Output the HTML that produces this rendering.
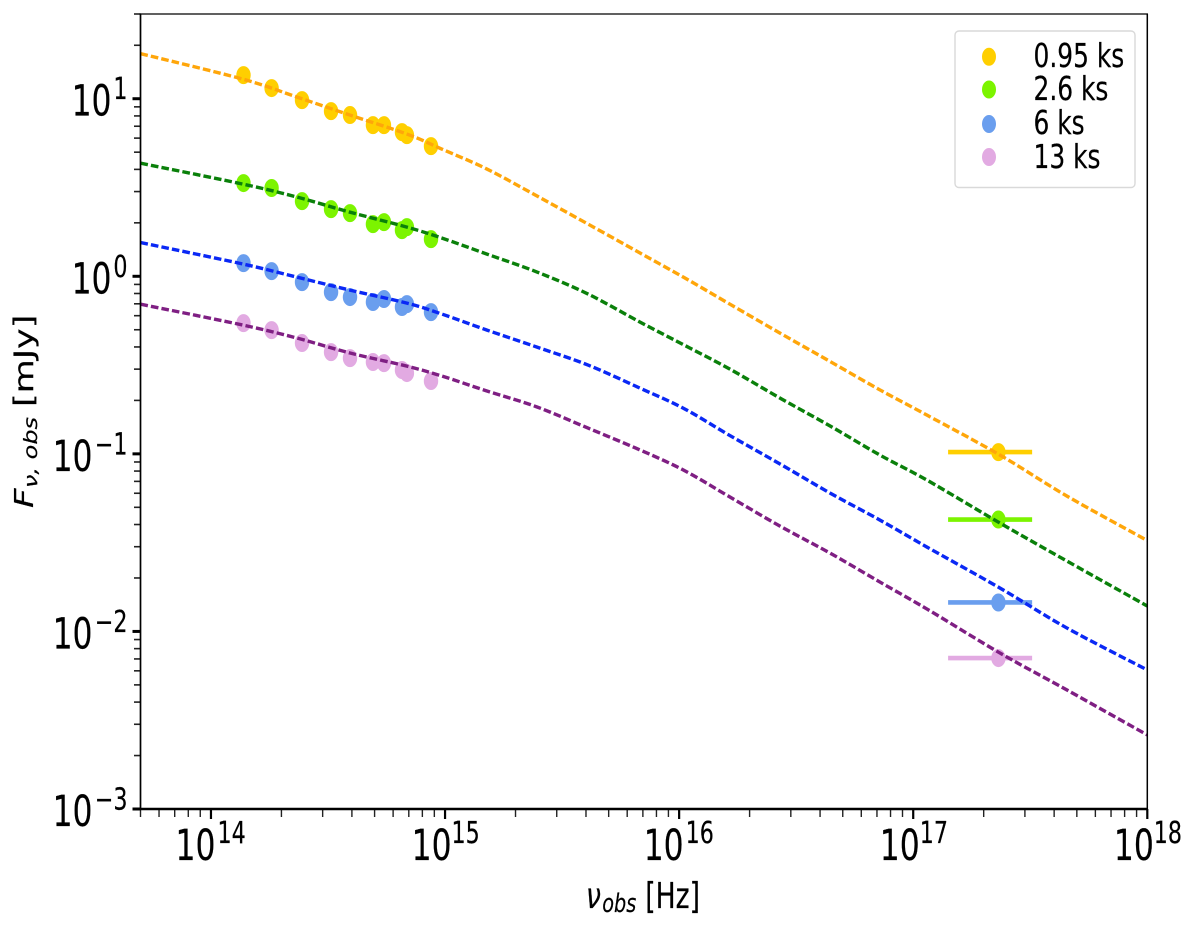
<!DOCTYPE html>
<html>
<head>
<meta charset="utf-8">
<title>Afterglow spectral energy distribution</title>
<style>
html,body{margin:0;padding:0;background:#fff;}
#chart{display:block;width:1200px;height:929px;}
text{font-family:"DejaVu Sans","Liberation Sans",sans-serif;fill:#000;stroke:#000;stroke-width:0.2px;}
</style>
</head>
<body>
<svg id="chart" xmlns="http://www.w3.org/2000/svg" width="1200" height="929" viewBox="0 0 1200 929">
  <rect x="0" y="0" width="1200" height="929" fill="#fff"/>
  <defs>
    <clipPath id="plot-clip"><rect x="140.5" y="14" width="1006.8" height="795"/></clipPath>
  </defs>
  <g id="ticks"></g>
  <g id="bars" clip-path="url(#plot-clip)"></g>
  <g id="points" clip-path="url(#plot-clip)"></g>
  <g id="curves" clip-path="url(#plot-clip)"></g>
  <g id="spines">
    <line x1="139.7" y1="14" x2="1148" y2="14" stroke="#000" stroke-width="1.3"/>
    <line x1="1147.3" y1="14" x2="1147.3" y2="809" stroke="#000" stroke-width="1.5"/>
    <line x1="140.5" y1="14" x2="140.5" y2="810" stroke="#000" stroke-width="1.7"/>
    <line x1="139.7" y1="809" x2="1148" y2="809" stroke="#000" stroke-width="2.6"/>
  </g>
  <g id="tick-labels"></g>

  <g transform="translate(586,908) scale(0.74,1)">
    <text x="0" y="0" font-size="36" font-style="italic">ν</text>
    <text x="22" y="4" font-size="26" font-style="italic">obs</text>
    <text x="80" y="0" font-size="36">[Hz]</text>
  </g>
  <g transform="translate(33,508) scale(0.765,1) rotate(-90)">
    <text x="0" y="0" font-size="34" font-style="italic">F</text>
    <text x="20" y="5" font-size="24" font-style="italic">ν, obs</text>
    <text x="101" y="0" font-size="35">[mJy]</text>
  </g>

  <g>
    <rect x="955" y="31" width="180" height="156.5" rx="4" ry="4" fill="#fff" stroke="#d9d9d9" stroke-width="1.4"/>
    <g>
      <ellipse cx="989" cy="56.7" rx="7" ry="9" fill="#ffcf00"/>
      <text transform="translate(1033.5,67) scale(0.755,1)" font-size="33">0.95 ks</text>
    </g>
    <g>
      <ellipse cx="989" cy="89.5" rx="7" ry="9" fill="#7cf400"/>
      <text transform="translate(1033.5,100) scale(0.755,1)" font-size="33">2.6 ks</text>
    </g>
    <g>
      <ellipse cx="989" cy="124" rx="7" ry="9" fill="#6a9eee"/>
      <text transform="translate(1033.5,134) scale(0.755,1)" font-size="33">6 ks</text>
    </g>
    <g>
      <ellipse cx="989" cy="157" rx="7" ry="9" fill="#e2aae2"/>
      <text transform="translate(1033.5,168) scale(0.755,1)" font-size="33">13 ks</text>
    </g>
  </g>
</svg>
<script>
// All values are log10: frequency in Hz, flux density in mJy.
var xTickExponents = [14, 15, 16, 17, 18];
var yTickExponents = [-3, -2, -1, 0, 1];
var yTickLabels = ["\u22123", "\u22122", "\u22121", "0", "1"];

var modelLogNu = [13.699, 14.137, 14.368, 14.594, 14.837, 14.987, 15.179, 15.393, 15.611, 15.833, 16.021, 16.217, 16.431, 16.645, 16.858, 17.059, 17.371, 17.657, 18.0];
var modelOrange = [1.254, 1.110, 1.009, 0.908, 0.801, 0.716, 0.604, 0.452, 0.294, 0.131, -0.007, -0.157, -0.320, -0.480, -0.640, -0.782, -1.007, -1.238, -1.488];
var modelGreen = [0.637, 0.519, 0.446, 0.361, 0.277, 0.215, 0.125, 0.024, -0.100, -0.258, -0.387, -0.523, -0.686, -0.843, -1.007, -1.148, -1.390, -1.604, -1.857];
var modelBlue = [0.190, 0.069, -0.005, -0.078, -0.151, -0.213, -0.303, -0.399, -0.500, -0.630, -0.745, -0.897, -1.057, -1.221, -1.373, -1.525, -1.756, -1.981, -2.217];
var modelPurple = [-0.157, -0.275, -0.348, -0.432, -0.506, -0.562, -0.646, -0.736, -0.855, -0.978, -1.093, -1.243, -1.407, -1.559, -1.722, -1.874, -2.122, -2.330, -2.583];

var opticalLogNu = [14.139, 14.259, 14.389, 14.513, 14.594, 14.692, 14.739, 14.816, 14.837, 14.940];
var optical095ks = [1.133, 1.060, 0.992, 0.930, 0.908, 0.851, 0.851, 0.812, 0.795, 0.733];
var optical26ks = [0.525, 0.497, 0.423, 0.378, 0.356, 0.294, 0.305, 0.260, 0.277, 0.209];
var optical6ks = [0.074, 0.029, -0.033, -0.089, -0.117, -0.145, -0.128, -0.173, -0.157, -0.202];
var optical13ks = [-0.264, -0.303, -0.376, -0.427, -0.461, -0.483, -0.489, -0.528, -0.545, -0.590];

var xrayLogNu = [17.364];
var xrayLogNuLow = [17.149];
var xrayLogNuHigh = [17.508];
var xray095ks = [-0.990];
var xray26ks = [-1.370];
var xray6ks = [-1.837];
var xray13ks = [-2.150];

var SVGNS = "http://www.w3.org/2000/svg";
var LEFT = 140.5, RIGHT = 1147.3, TOP = 14, BOTTOM = 809;
var X_MIN = Math.log10(5e13), X_MAX = 18, Y_MIN = -3, Y_MAX = Math.log10(30);
var BASE_SQUEEZE = 0.73, SUP_SQUEEZE = 0.74;

function xAxis(v) { return LEFT + (v - X_MIN) / (X_MAX - X_MIN) * (RIGHT - LEFT); }
function yAxis(v) { return BOTTOM - (v - Y_MIN) / (Y_MAX - Y_MIN) * (BOTTOM - TOP); }
function make(tag, attrs, parent) {
  var el = document.createElementNS(SVGNS, tag);
  for (var k in attrs) { el.setAttribute(k, attrs[k]); }
  parent.appendChild(el);
  return el;
}

var ticksG = document.getElementById("ticks");
var labelsG = document.getElementById("tick-labels");
var barsG = document.getElementById("bars");
var pointsG = document.getElementById("points");
var curvesG = document.getElementById("curves");

// minor x ticks
for (var dx = 13; dx <= 17; dx++) {
  for (var mx = 2; mx <= 9; mx++) {
    var lx = dx + Math.log10(mx);
    if (lx < X_MIN - 1e-6) { continue; }
    var tx = make("line", {x1: xAxis(lx), x2: xAxis(lx), y1: BOTTOM, y2: BOTTOM + 8, stroke: "#222", "stroke-width": 1.4}, ticksG);
    
    
  }
}
// minor y ticks
for (var dy = -3; dy <= 1; dy++) {
  for (var my = 2; my <= 9; my++) {
    var ly = dy + Math.log10(my);
    if (ly > Y_MAX + 1e-6) { continue; }
    var ty = make("line", {x1: LEFT - 6.5, x2: LEFT, y1: yAxis(ly), y2: yAxis(ly), stroke: "#222", "stroke-width": 1.6}, ticksG);
    
    
  }
}

xTickExponents.forEach(function (e) {
  var px = xAxis(e);
  var nudge = (e === 15 || e === 17 || e === 18) ? 2 : 0;
  var t = make("line", {x1: px, x2: px, y1: BOTTOM, y2: BOTTOM + 10, stroke: "#000", "stroke-width": 2.2}, ticksG);
  
  
  var base = make("text", {transform: "translate(" + (px + 4.5 + nudge) + ",860) scale(" + BASE_SQUEEZE + ",1)", "font-size": 43, "text-anchor": "end"}, labelsG);
  base.textContent = "10";
  
  
  var sup = make("text", {transform: "translate(" + (px + 6.5) + ",843) scale(" + SUP_SQUEEZE + ",1)", "font-size": 30}, labelsG);
  sup.textContent = String(e);
  
  
});

yTickExponents.forEach(function (e, i) {
  var py = yAxis(e);
  var t = make("line", {x1: LEFT - 8, x2: LEFT, y1: py, y2: py, stroke: "#000", "stroke-width": 3}, ticksG);
  
  
  var baseEnd = e < 0 ? 92.5 : 111.5;
  var base = make("text", {transform: "translate(" + baseEnd + "," + (py + 17) + ") scale(" + BASE_SQUEEZE + ",1)", "font-size": 43, "text-anchor": "end"}, labelsG);
  base.textContent = "10";
  
  
  var sup = make("text", {transform: "translate(127.5," + (py + 0.5) + ") scale(" + SUP_SQUEEZE + ",1)", "font-size": 30, "text-anchor": "end"}, labelsG);
  sup.textContent = yTickLabels[i];
  
  
});

// Smooth line through the model samples (Catmull-Rom to Bezier).
function drawCurve(values, color, name) {
  var n = modelLogNu.length;
  var pts = [];
  for (var i = 0; i < n; i++) {
    pts.push([xAxis(modelLogNu[i]), yAxis(values[i])]);
  }
  var d = "M" + pts[0][0].toFixed(2) + " " + pts[0][1].toFixed(2);
  for (var j = 0; j < n - 1; j++) {
    var p0 = pts[Math.max(j - 1, 0)], p1 = pts[j], p2 = pts[j + 1], p3 = pts[Math.min(j + 2, n - 1)];
    var c1x = p1[0] + (p2[0] - p0[0]) / 6, c1y = p1[1] + (p2[1] - p0[1]) / 6;
    var c2x = p2[0] - (p3[0] - p1[0]) / 6, c2y = p2[1] - (p3[1] - p1[1]) / 6;
    d += "C" + c1x.toFixed(2) + " " + c1y.toFixed(2) + " " + c2x.toFixed(2) + " " + c2y.toFixed(2) + " " + p2[0].toFixed(2) + " " + p2[1].toFixed(2);
  }
  var p = make("path", {d: d, fill: "none", stroke: color, "stroke-width": 3.4, "stroke-dasharray": "7.6 3.1"}, curvesG);
  
  
}

function drawPoints(values, color, name) {
  for (var i = 0; i < opticalLogNu.length; i++) {
    var m = make("ellipse", {cx: xAxis(opticalLogNu[i]), cy: yAxis(values[i]), rx: 7.2, ry: 9, fill: color}, pointsG);
    
    
  }
}

function drawXray(values, color, name) {
  for (var i = 0; i < xrayLogNu.length; i++) {
    var b = make("line", {x1: xAxis(xrayLogNuLow[i]), x2: xAxis(xrayLogNuHigh[i]), y1: yAxis(values[i]), y2: yAxis(values[i]), stroke: color, "stroke-width": 4.6}, barsG);
    
    
    var m = make("ellipse", {cx: xAxis(xrayLogNu[i]), cy: yAxis(values[i]), rx: 7.2, ry: 9, fill: color}, barsG);
    
    
  }
}

drawXray(xray095ks, "#ffcf00", "xray-0-95-ks");
drawXray(xray26ks, "#7cf400", "xray-2-6-ks");
drawXray(xray6ks, "#6a9eee", "xray-6-ks");
drawXray(xray13ks, "#e2aae2", "xray-13-ks");

drawPoints(optical095ks, "#ffcf00", "optical-point-0-95-ks");
drawPoints(optical26ks, "#7cf400", "optical-point-2-6-ks");
drawPoints(optical6ks, "#6a9eee", "optical-point-6-ks");
drawPoints(optical13ks, "#e2aae2", "optical-point-13-ks");

drawCurve(modelOrange, "#ffa60a", "model-curve-0-95-ks");
drawCurve(modelGreen, "#0a800a", "model-curve-2-6-ks");
drawCurve(modelBlue, "#0a28f5", "model-curve-6-ks");
drawCurve(modelPurple, "#7f1f83", "model-curve-13-ks");
</script>
</body>
</html>
